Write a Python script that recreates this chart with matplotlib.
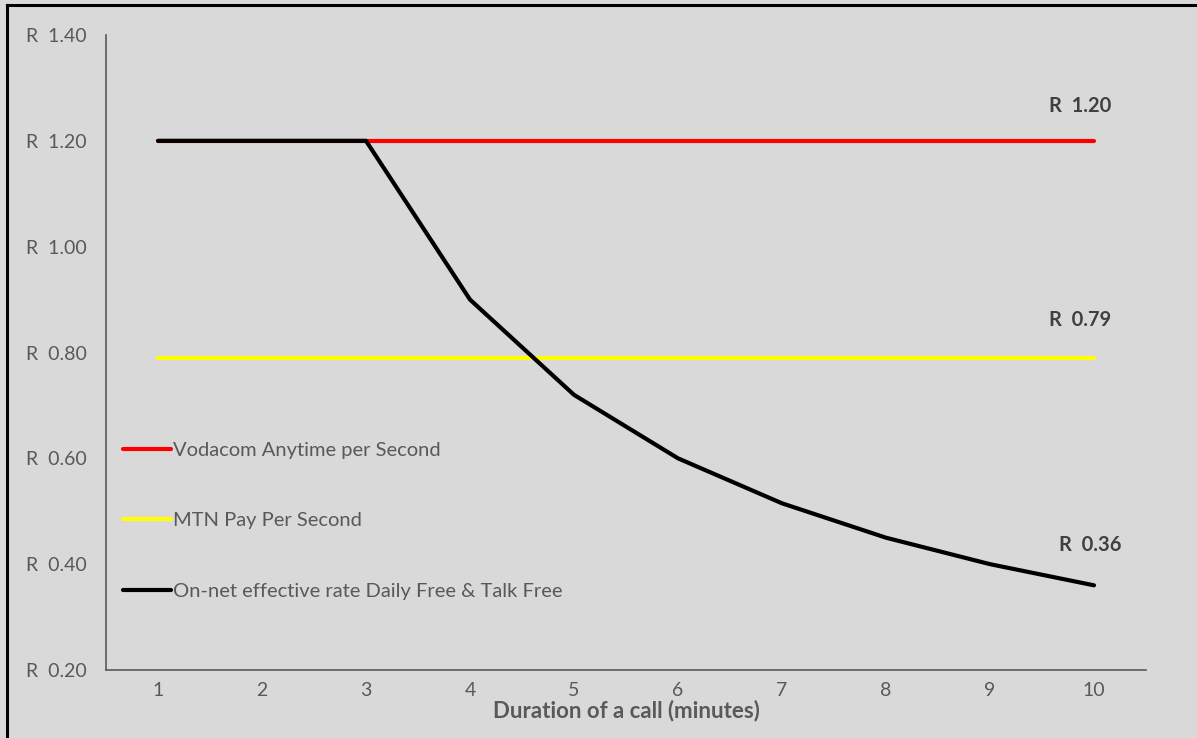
import matplotlib
matplotlib.use("Agg")
import matplotlib.pyplot as plt
from matplotlib.lines import Line2D

# data
minutes = [1, 2, 3, 4, 5, 6, 7, 8, 9, 10]
vodacom = [1.20, 1.20, 1.20, 1.20, 1.20, 1.20, 1.20, 1.20, 1.20, 1.20]
mtn = [0.79, 0.79, 0.79, 0.79, 0.79, 0.79, 0.79, 0.79, 0.79, 0.79]
onnet = [1.20, 1.20, 1.20, 0.90, 0.72, 0.60, 0.515, 0.45, 0.40, 0.36]
yticks = [0.20, 0.40, 0.60, 0.80, 1.00, 1.20, 1.40]

bg = '#d9d9d9'
grey = '#595959'
plt.rcParams['font.family'] = ['Lato', 'DejaVu Sans']

fig = plt.figure(figsize=(11.97, 7.38), dpi=100, facecolor=bg)
ax = fig.add_axes([106/1197, 1 - 670/738, 1040/1197, 635/738])
ax.set_facecolor(bg)

ax.plot(minutes, vodacom, color='#ff0000', lw=3, solid_capstyle='round',
        label='Vodacom Anytime per Second')
ax.plot(minutes, mtn, color='#ffff00', lw=3, solid_capstyle='round',
        label='MTN Pay Per Second')
ax.plot(minutes, onnet, color='black', lw=3, solid_capstyle='round',
        label='On-net effective rate Daily Free & Talk Free')

ax.set_xlim(0.5, 10.5)
ax.set_ylim(0.20, 1.40)
ax.set_xticks(minutes)
ax.set_yticks(yticks)
ax.set_yticklabels(['R  {:.2f}'.format(v) for v in yticks])
ax.tick_params(length=0, colors=grey, labelsize=14)
ax.tick_params(axis='y', pad=14)
ax.tick_params(axis='x', pad=9)
for s in ('top', 'right'):
    ax.spines[s].set_visible(False)
for s in ('left', 'bottom'):
    ax.spines[s].set_color(grey)
    ax.spines[s].set_linewidth(1.2)

ax.set_xlabel('Duration of a call (minutes)', color=grey, fontsize=16,
              fontweight='bold', labelpad=0)

# value labels at the last point
for ser, dx, dy in ((vodacom, -10, 25), (mtn, -10, 27), (onnet, -3, 29)):
    ax.annotate('R  {:.2f}'.format(ser[-1]), xy=(minutes[-1], ser[-1]),
                xytext=(dx, dy), textcoords='offset points', ha='center',
                va='center', color='#404040', fontsize=14.5, fontweight='bold')

leg = ax.legend(loc='lower left', bbox_to_anchor=(-0.003, 0.079), frameon=False,
                fontsize=14.5, labelcolor=grey, handlelength=2.4,
                handletextpad=0.1, labelspacing=2.65, borderaxespad=0.6)

# outer frame (left and top edges visible)
fig.add_artist(Line2D([7/1197, 7/1197], [0, 1 - 5/738], color='black', lw=2.2,
                      transform=fig.transFigure))
fig.add_artist(Line2D([7/1197, 1], [1 - 5/738, 1 - 5/738], color='black', lw=2.2,
                      transform=fig.transFigure))

fig.savefig('out.png', dpi=100, facecolor=bg)
